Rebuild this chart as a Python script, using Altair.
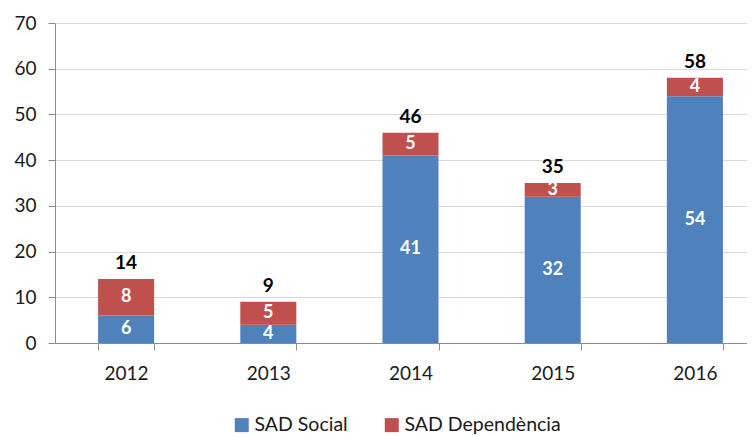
import altair as alt
import pandas as pd

years = ["2012", "2013", "2014", "2015", "2016"]
social = [6, 4, 41, 32, 54]
dependencia = [8, 5, 5, 3, 4]
series = ["SAD Social", "SAD Dependència"]
colors = ["#4F81BD", "#C0504D"]
y_ticks = [0, 10, 20, 30, 40, 50, 60, 70]

rows = []
for i, yr in enumerate(years):
    rows.append({"year": yr, "serie": series[0], "value": social[i], "ord": 0})
    rows.append({"year": yr, "serie": series[1], "value": dependencia[i], "ord": 1})
df = pd.DataFrame(rows)

FONT = "Lato"
AXIS_GRAY = "#8C8C8C"
TEXT = "#1A1A1A"

x_enc = alt.X(
    "year:N",
    title=None,
    sort=years,
    scale=alt.Scale(range=[0, 711], paddingInner=0.606, paddingOuter=0.303),
    axis=alt.Axis(
        labelAngle=0,
        labelFontSize=19,
        labelColor=TEXT,
        labelPadding=14,
        tickBand="extent",
        tickSize=7,
        tickColor=AXIS_GRAY,
        domainColor=AXIS_GRAY,
        grid=False,
    ),
)

y_scale = alt.Scale(domain=[0, 70], nice=False)

base = alt.Chart(df)

bars = base.mark_bar().encode(
    x=x_enc,
    y=alt.Y(
        "value:Q",
        stack="zero",
        title=None,
        scale=y_scale,
        axis=alt.Axis(
            values=y_ticks,
            labelFontSize=19,
            labelColor=TEXT,
            labelPadding=12,
            tickSize=7,
            tickColor=AXIS_GRAY,
            domainColor=AXIS_GRAY,
            gridColor="#D9D9D9",
        ),
    ),
    color=alt.Color(
        "serie:N",
        scale=alt.Scale(domain=series, range=colors),
        legend=alt.Legend(
            title=None,
            orient="none",
            legendX=177,
            legendY=392,
            direction="horizontal",
            symbolType="square",
            symbolSize=196,
            symbolStrokeWidth=0,
            labelFontSize=19.5,
            labelColor=TEXT,
            labelOffset=3,
            columnPadding=34,
        ),
    ),
    order=alt.Order("ord:Q", sort="ascending"),
)

inner = (
    base.transform_stack(
        stack="value", as_=["y0", "y1"], groupby=["year"], sort=[alt.SortField("ord")]
    )
    .transform_calculate(mid="(datum.y0 + datum.y1) / 2")
    .mark_text(color="white", fontWeight="bold", fontSize=18, baseline="middle")
    .encode(x=x_enc, y=alt.Y("mid:Q", scale=y_scale), text="value:Q")
)

totals = (
    base.transform_aggregate(total="sum(value)", groupby=["year"])
    .mark_text(color="black", fontWeight="bold", fontSize=19, baseline="bottom", dy=-6)
    .encode(x=x_enc, y=alt.Y("total:Q", scale=y_scale), text="total:Q")
)

chart = (
    alt.layer(bars, inner, totals)
    .properties(
        width=692,
        height=320,
        autosize=alt.AutoSizeParams(type="none"),
        padding={"left": 47, "top": 15, "right": 0, "bottom": 93},
    )
    .configure(font=FONT)
    .configure_view(stroke=None)
)

chart.save("out.html", embed_options={"renderer": "svg", "actions": False})
